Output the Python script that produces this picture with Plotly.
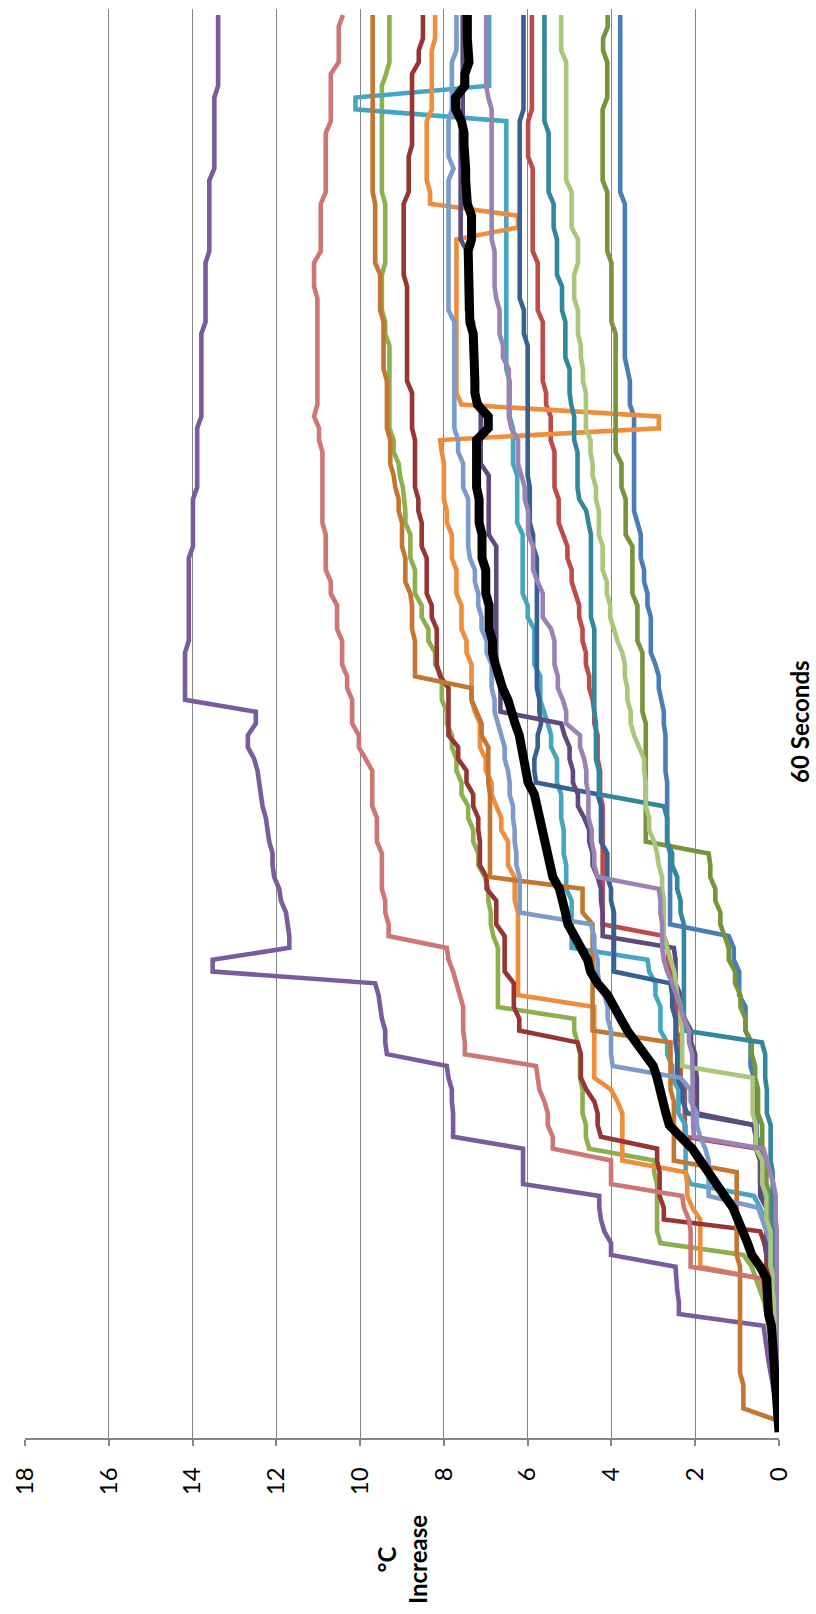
import plotly.graph_objects as go

# Temperature rise (°C) sampled every 0.5 s from 0 to 60 s, 16 runs plus their mean.
# Each run is stored as (value, repeat-count) pairs, listed from t = 0 upward.
STEP_S = 0.5
N_SAMPLES = 121
seconds = [k * STEP_S for k in range(N_SAMPLES)]

temp_ticks = [0, 2, 4, 6, 8, 10, 12, 14, 16, 18]
temp_tick_text = [str(v) for v in temp_ticks]

run_blue = [(0, 5), (0.1, 5), (0.2, 5), (0.3, 5), (0.42, 5), (0.53, 5), (0.60, 1), (0.68, 3),
            (0.80, 3), (0.95, 3), (1.08, 2), (1.20, 1), (2.60, 7), (2.67, 6), (2.71, 4), (2.75, 2),
            (2.81, 1), (2.87, 2), (2.95, 1), (3.06, 4), (3.14, 2), (3.22, 2), (3.30, 3), (3.38, 1),
            (3.46, 9), (3.56, 3), (3.62, 1), (3.68, 14), (3.79, 16)]

run_red = [(0, 6), (0.05, 5), (0.15, 5), (0.3, 5), (0.4, 3), (0.5, 1), (2.25, 5), (2.35, 4),
           (2.45, 4), (2.51, 1), (2.59, 1), (2.65, 2), (2.75, 1), (4.21, 11), (4.27, 3), (4.33, 3),
           (4.41, 2), (4.45, 1), (4.53, 2), (4.61, 2), (4.69, 2), (4.77, 2), (4.85, 1), (4.95, 2),
           (5.05, 2), (5.15, 1), (5.26, 3), (5.36, 4), (5.45, 3), (5.56, 2), (5.64, 6), (5.76, 5),
           (5.88, 8), (5.99, 4), (5.90, 9)]

run_green = [(0, 5), (0.05, 1), (0.1, 1), (0.15, 1), (0.2, 1), (0.25, 1), (0.3, 1), (0.35, 1),
             (0.45, 1), (0.55, 1), (0.65, 1), (0.85, 1), (2.83, 1), (2.91, 5), (2.98, 2), (4.53, 1),
             (4.61, 2), (4.69, 3), (4.75, 3), (4.81, 1), (4.89, 2), (6.71, 6), (6.82, 1), (6.88, 2),
             (6.94, 2), (7.02, 1), (7.18, 2), (7.30, 2), (7.42, 2), (7.58, 2), (7.70, 2), (7.81, 2),
             (7.93, 2), (8.05, 3), (8.21, 2), (8.37, 2), (8.53, 2), (8.69, 3), (8.80, 3), (8.92, 2),
             (8.95, 1), (8.98, 1), (9.05, 1), (9.08, 1), (9.20, 2), (9.30, 8), (9.40, 2), (9.48, 4),
             (9.40, 6), (9.48, 10), (9.38, 1), (9.30, 5)]

run_purple = [(0.0, 1), (0.03, 1), (0.06, 1), (0.1, 1), (0.15, 1), (0.21, 1), (0.25, 1), (0.29, 1),
              (0.33, 1), (0.37, 1), (2.39, 2), (2.43, 1), (2.45, 1), (2.47, 1), (4.01, 2), (4.17, 1),
              (4.25, 1), (4.29, 2), (6.11, 4), (7.78, 3), (7.81, 2), (7.89, 1), (7.93, 1), (9.36, 1),
              (9.40, 2), (9.48, 1), (9.52, 1), (9.56, 1), (9.64, 1), (13.52, 2), (11.69, 2), (11.73, 1),
              (11.77, 1), (11.89, 1), (11.93, 1), (12.05, 1), (12.09, 2), (12.17, 1), (12.21, 1),
              (12.25, 1), (12.33, 1), (12.37, 1), (12.41, 1), (12.45, 1), (12.53, 1), (12.68, 2),
              (12.49, 2), (14.18, 5), (14.09, 8), (13.99, 5), (13.89, 6), (13.79, 8), (13.69, 6),
              (13.60, 7), (13.48, 7), (13.39, 7)]

run_aqua = [(0, 6), (0.05, 4), (0.1, 3), (0.2, 3), (0.3, 2), (0.35, 1), (0.45, 1), (0.6, 1),
            (2.11, 1), (2.23, 5), (2.40, 3), (2.55, 2), (2.67, 2), (2.83, 3), (2.95, 2), (3.10, 1),
            (3.14, 1), (4.95, 5), (5.08, 3), (5.14, 3), (5.20, 3), (5.30, 3), (5.44, 2), (5.52, 1),
            (5.60, 1), (5.70, 3), (5.84, 4), (6.00, 2), (6.12, 6), (6.25, 5), (6.35, 4), (6.43, 4),
            (6.51, 22), (10.11, 2), (6.92, 7)]

run_orange = [(0, 4), (0.05, 3), (0.1, 3), (0.2, 2), (0.3, 1), (0.45, 1), (1.88, 5), (2.07, 1),
              (2.19, 2), (2.23, 1), (3.74, 5), (3.86, 1), (4.01, 1), (4.41, 7), (6.23, 8), (6.31, 3),
              (6.47, 3), (6.63, 2), (6.75, 1), (6.86, 2), (7.00, 2), (7.14, 3), (7.26, 1), (7.34, 4),
              (7.46, 2), (7.58, 3), (7.70, 3), (7.81, 3), (7.93, 2), (8.00, 4), (8.05, 1), (8.09, 1),
              (2.87, 2), (7.58, 1), (7.70, 14), (6.23, 2), (8.33, 2), (8.41, 6), (8.29, 6), (8.21, 3)]

run_dark_blue = [(0, 6), (0.05, 5), (0.15, 5), (0.3, 5), (0.45, 3), (0.55, 2), (0.61, 1), (2.19, 1),
                 (2.30, 2), (2.43, 3), (2.47, 3), (2.55, 2), (2.59, 1), (3.94, 6), (4.01, 2), (4.10, 3),
                 (4.25, 4), (4.33, 1), (5.80, 1), (5.84, 2), (5.76, 2), (5.68, 1), (5.72, 2), (5.78, 12),
                 (5.87, 2), (5.95, 4), (6.00, 12), (6.09, 3), (6.19, 16), (6.10, 9)]

run_dark_red = [(0, 4), (0.05, 4), (0.1, 3), (0.2, 3), (0.3, 2), (0.35, 1), (0.45, 1), (2.75, 2),
                (2.85, 3), (2.91, 2), (4.25, 1), (4.33, 2), (4.41, 1), (4.60, 1), (4.73, 3), (4.81, 1),
                (6.20, 2), (6.33, 3), (6.55, 4), (6.75, 3), (6.98, 2), (7.14, 3), (7.18, 2), (7.30, 2),
                (7.46, 2), (7.66, 2), (7.89, 5), (8.09, 1), (8.17, 4), (8.29, 2), (8.41, 4), (8.53, 3),
                (8.61, 2), (8.69, 5), (8.76, 4), (8.88, 9), (8.96, 7), (8.84, 4), (8.76, 7), (8.60, 2),
                (8.50, 3)]

run_olive = [(0, 8), (0.07, 6), (0.12, 4), (0.2, 3), (0.3, 3), (0.4, 3), (0.5, 3), (0.57, 2),
             (0.65, 2), (0.80, 2), (0.92, 2), (1.05, 2), (1.20, 2), (1.30, 1), (1.40, 2), (1.52, 2),
             (1.64, 2), (1.68, 1), (3.18, 11), (3.26, 6), (3.38, 4), (3.50, 5), (3.66, 4), (3.76, 3),
             (3.90, 11), (4.00, 6), (4.10, 6), (4.21, 7), (4.10, 4), (4.20, 2), (4.09, 2)]

run_dark_purple = [(0, 6), (0.05, 5), (0.15, 4), (0.3, 5), (0.45, 4), (0.55, 2), (0.61, 1), (1.96, 4),
                   (2.00, 2), (2.10, 2), (2.25, 1), (2.35, 2), (2.47, 3), (2.51, 1), (4.21, 3), (4.25, 2),
                   (4.33, 1), (4.45, 2), (4.53, 2), (4.65, 1), (4.80, 2), (4.92, 2), (5.00, 2), (5.12, 1),
                   (5.20, 1), (6.65, 4), (6.75, 11), (6.93, 6), (7.12, 6), (7.30, 7), (7.45, 6),
                   (7.60, 10), (7.55, 10)]

run_dark_teal = [(0, 8), (0.05, 5), (0.1, 5), (0.15, 5), (0.2, 4), (0.29, 3), (0.33, 3), (0.41, 1),
                 (2.27, 10), (2.35, 2), (2.43, 2), (2.55, 2), (2.67, 3), (2.75, 1), (4.30, 3), (4.37, 4),
                 (4.41, 8), (4.49, 8), (4.55, 1), (4.60, 1), (4.77, 1), (4.81, 4), (4.89, 3), (4.96, 1),
                 (5.00, 3), (5.10, 4), (5.18, 3), (5.30, 4), (5.38, 3), (5.50, 6), (5.60, 10)]

run_brown = [(0, 1), (0.05, 1), (0.85, 3), (0.93, 10), (1.01, 8), (2.51, 6), (2.59, 5), (4.45, 10),
             (4.69, 3), (6.90, 8), (6.94, 4), (7.10, 2), (7.22, 1), (7.34, 2), (8.69, 4), (8.76, 3),
             (8.80, 1), (8.92, 3), (9.00, 3), (9.08, 2), (9.16, 1), (9.20, 1), (9.28, 3), (9.36, 5),
             (9.44, 5), (9.52, 4), (9.64, 6), (9.70, 16)]

run_light_blue = [(0, 6), (0.05, 4), (0.1, 4), (0.2, 3), (0.3, 1), (0.4, 1), (0.5, 1), (1.68, 4),
                  (1.76, 1), (1.88, 1), (1.96, 2), (2.11, 2), (2.35, 1), (3.97, 1), (4.01, 3), (4.09, 2),
                  (4.17, 1), (4.29, 1), (4.33, 2), (4.41, 2), (4.49, 1), (6.19, 4), (6.27, 2), (6.31, 2),
                  (6.35, 2), (6.43, 2), (6.47, 1), (6.55, 2), (6.63, 1), (6.71, 1), (6.79, 2), (6.86, 3),
                  (6.98, 2), (7.10, 2), (7.18, 2), (7.26, 2), (7.38, 1), (7.42, 5), (7.54, 3), (7.66, 2),
                  (7.75, 10), (7.89, 12), (7.77, 1), (7.89, 4), (7.81, 5), (7.70, 4)]

run_salmon = [(0, 4), (0.05, 3), (0.12, 3), (0.25, 1), (0.3, 1), (0.35, 1), (0.41, 1), (2.11, 4),
              (2.15, 1), (2.27, 1), (2.31, 1), (4.01, 3), (5.40, 2), (5.52, 2), (5.60, 1), (5.72, 1),
              (5.76, 1), (5.80, 1), (7.50, 2), (7.54, 3), (7.62, 1), (7.70, 1), (7.78, 1), (7.89, 1),
              (7.93, 1), (9.32, 2), (9.40, 2), (9.48, 4), (9.60, 3), (9.71, 4), (9.87, 1), (10.03, 2),
              (10.19, 3), (10.31, 2), (10.43, 3), (10.55, 3), (10.70, 2), (10.82, 4), (10.90, 7),
              (10.98, 2), (11.10, 1), (11.02, 10), (11.10, 3), (10.94, 5), (10.82, 6), (10.70, 5),
              (10.51, 4), (10.41, 1)]

run_light_green = [(0, 5), (0.05, 5), (0.12, 4), (0.2, 4), (0.3, 3), (0.4, 3), (0.55, 3), (0.63, 4),
                   (2.31, 4), (2.35, 2), (2.43, 1), (2.47, 1), (2.50, 1), (2.59, 1), (2.67, 1), (2.75, 4),
                   (2.79, 2), (2.87, 1), (2.91, 1), (2.98, 1), (3.10, 2), (3.18, 3), (3.22, 2), (3.34, 1),
                   (3.46, 1), (3.54, 2), (3.62, 2), (3.68, 2), (3.74, 1), (3.86, 1), (3.94, 1), (4.03, 2),
                   (4.11, 2), (4.21, 3), (4.30, 3), (4.37, 2), (4.45, 2), (4.50, 2), (4.61, 4), (4.68, 2),
                   (4.73, 2), (4.80, 3), (4.89, 3), (4.80, 3), (4.95, 4), (5.08, 11), (5.20, 4)]

run_lavender = [(0, 12), (0.05, 6), (0.08, 3), (0.13, 1), (0.2, 1), (0.29, 1), (0.37, 1), (2.03, 1),
                (2.05, 4), (2.07, 3), (2.15, 2), (2.27, 1), (2.35, 1), (2.45, 1), (2.55, 1), (2.67, 1),
                (2.75, 1), (2.79, 3), (2.83, 2), (2.87, 1), (4.33, 1), (4.41, 2), (4.47, 2), (4.55, 3),
                (4.60, 2), (4.65, 1), (4.75, 2), (5.08, 2), (5.16, 1), (5.28, 2), (5.36, 3), (5.44, 1),
                (5.64, 3), (5.76, 1), (5.87, 3), (5.99, 3), (6.07, 2), (6.15, 1), (6.23, 3), (6.39, 1),
                (6.45, 5), (6.59, 2), (6.67, 3), (6.75, 1), (6.79, 4), (6.86, 12), (6.94, 1), (6.99, 7)]

# Mean of the 16 runs, one value per sample
mean_rise = [0, 0.02, 0.04, 0.06, 0.08, 0.09, 0.10, 0.12, 0.13, 0.18,
             0.25, 0.26, 0.28, 0.30, 0.45, 0.65, 0.75, 0.85, 0.97, 1.10,
             1.30, 1.50, 1.64, 1.88, 2.07, 2.35, 2.62, 2.70, 2.77, 2.80,
             2.91, 3.00, 3.22, 3.46, 3.62, 3.78, 3.94, 4.09, 4.33, 4.50,
             4.57, 4.73, 4.89, 5.04, 5.10, 5.16, 5.24, 5.40, 5.46, 5.52,
             5.60, 5.66, 5.72, 5.78, 5.84, 5.99, 6.03, 6.07, 6.12, 6.20,
             6.30, 6.38, 6.47, 6.60, 6.70, 6.77, 6.84, 6.84, 6.92, 6.92,
             6.92, 7.00, 7.00, 7.00, 7.09, 7.09, 7.09, 7.16, 7.16, 7.16,
             7.22, 7.22, 7.22, 7.22, 7.22, 6.94, 6.94, 7.20, 7.26, 7.26,
             7.26, 7.25, 7.25, 7.30, 7.38, 7.38, 7.38, 7.42, 7.42, 7.42,
             7.42, 7.34, 7.34, 7.34, 7.44, 7.48, 7.48, 7.48, 7.52, 7.52,
             7.52, 7.58, 7.72, 7.72, 7.50, 7.50, 7.40, 7.44, 7.44, 7.44,
             7.44]


def expand(runs):
    values = []
    for value, count in runs:
        values.extend([value] * count)
    assert len(values) == N_SAMPLES
    return values


# Drawing order and line colours of the individual runs
runs = [
    ("Run 1", "#4A7CB8", run_blue),
    ("Run 2", "#BD4C49", run_red),
    ("Run 3", "#8DB04E", run_green),
    ("Run 4", "#7A5C9E", run_purple),
    ("Run 5", "#44A6C0", run_aqua),
    ("Run 6", "#EE8D3C", run_orange),
    ("Run 7", "#386192", run_dark_blue),
    ("Run 8", "#963634", run_dark_red),
    ("Run 9", "#77933C", run_olive),
    ("Run 10", "#5E4A7D", run_dark_purple),
    ("Run 11", "#33879C", run_dark_teal),
    ("Run 12", "#C37632", run_brown),
    ("Run 13", "#7A9BCB", run_light_blue),
    ("Run 14", "#CC7775", run_salmon),
    ("Run 15", "#AAC57C", run_light_green),
    ("Run 16", "#9883B4", run_lavender),
]

fig = go.Figure()
for name, colour, data in runs:
    fig.add_trace(go.Scatter(
        x=expand(data), y=seconds, mode="lines", name=name,
        line=dict(color=colour, width=4.6), hoverinfo="skip",
    ))
fig.add_trace(go.Scatter(
    x=mean_rise, y=seconds, mode="lines", name="Average",
    line=dict(color="#000000", width=9), hoverinfo="skip",
))

GRID = "#868686"
FONT = "Lato, 'Open Sans', sans-serif"

fig.update_layout(
    width=816, height=1614,
    margin=dict(l=21, r=37, t=9, b=176),
    paper_bgcolor="white", plot_bgcolor="white",
    showlegend=False,
    xaxis=dict(
        range=[18, 0],
        tickvals=temp_ticks, ticktext=temp_tick_text,
        tickangle=-90,
        ticks="outside", ticklen=6, tickwidth=1.5, tickcolor=GRID,
        showline=True, linecolor=GRID, linewidth=1.5,
        showgrid=True, gridcolor=GRID, gridwidth=1.2,
        zeroline=False,
        tickfont=dict(family=FONT, size=24, color="#000000"),
        ticklabelstandoff=12,
    ),
    yaxis=dict(
        range=[-0.25, 60.25],
        showticklabels=False, showgrid=False, zeroline=False,
        showline=False, ticks="",
    ),
    annotations=[
        dict(
            text="<b>60 Seconds</b>", xref="paper", yref="paper",
            x=(799 - 21) / 758, y=(1438 - 722) / 1429,
            xanchor="center", yanchor="middle", textangle=-90,
            showarrow=False, font=dict(family=FONT, size=24, color="#000000"),
        ),
        dict(
            text="<b>°C<br>Increase</b>", xref="paper", yref="paper",
            x=0.5, y=(1438 - 1560) / 1429,
            xanchor="center", yanchor="middle", textangle=-90,
            showarrow=False, font=dict(family=FONT, size=24, color="#000000"),
        ),
    ],
)

fig.write_html("out.html")
